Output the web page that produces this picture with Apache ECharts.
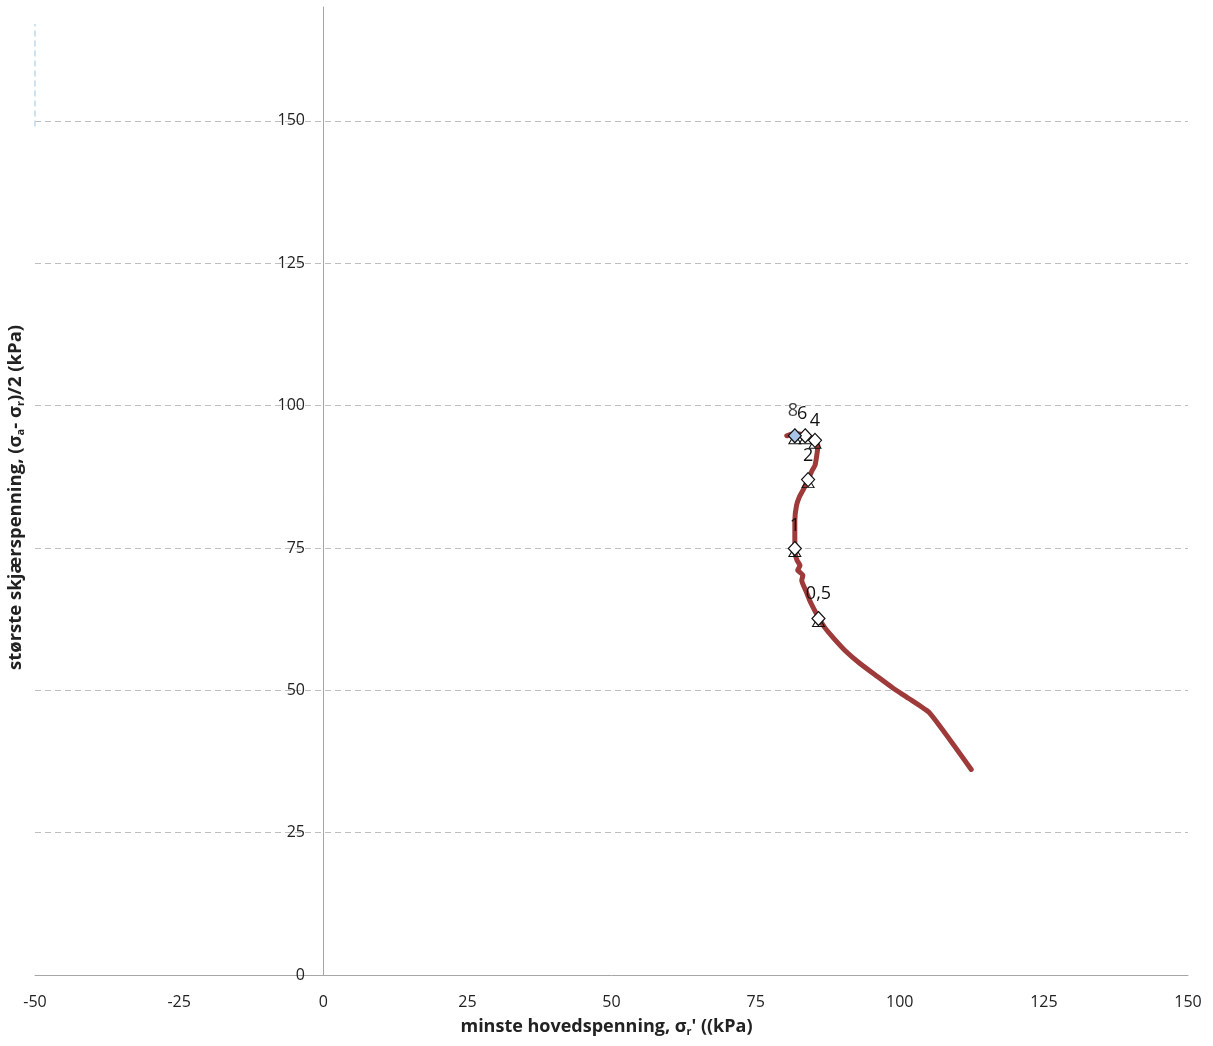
<!DOCTYPE html>
<html><head><meta charset="utf-8">
<script src="https://cdn.jsdelivr.net/npm/echarts@6/dist/echarts.min.js"></script>
<style>html,body{margin:0;padding:0;background:#fff}#c{width:1213px;height:1046px}</style>
</head><body><div id="c"></div>
<script>
// stress path (x = sigma_r', y = (sigma_a - sigma_r)/2)
const pathX = [112.4, 105.2, 101.5, 98.8, 96.0, 93.1, 90.5, 88.4, 87.0, 85.9, 84.5, 83.7, 83.0, 83.2, 82.3, 82.7, 82.2, 81.9, 81.8, 81.8, 82.1, 82.6, 83.2, 84.1, 84.8, 85.3, 85.6, 85.8, 85.6, 85.3, 83.6, 81.8, 80.4];
const pathY = [36.1, 46.0, 48.6, 50.4, 52.5, 54.7, 57.0, 59.3, 61.0, 62.8, 65.5, 67.5, 69.3, 70.2, 71.1, 71.9, 72.8, 73.8, 74.9, 79.8, 82.5, 84.0, 85.1, 87.0, 88.6, 89.5, 91.2, 93.0, 93.6, 93.9, 94.7, 95.1, 94.7];
// marked points (strain %)
const markLabels = ['0,5', '1', '2', '4', '6', '8'];
const markX = [85.9, 81.8, 84.1, 85.3, 83.6, 81.8];
const markY = [62.6, 74.9, 87.0, 93.9, 94.7, 94.7];
// helper line at left edge
const edgeX = [-50, -50];
const edgeY = [149, 167];
const xTicks = [-50, 150, 25];
const yTicks = [0, 170, 25];

const chart = echarts.init(document.getElementById('c'));
const path = pathX.map((x, i) => [x, pathY[i]]);
const labelOffsets = [[0,-25],[0,-23],[0,-24],[0,-19],[-3,-22],[-2,-25]];
const marks = markX.map((x, i) => ({
  value: [x, markY[i]],
  label: { formatter: markLabels[i], color: i === 5 ? '#444' : '#111', offset: labelOffsets[i] },
  itemStyle: { color: i === 5 ? '#a9c4e8' : '#fff' }
}));
const font = 'Open Sans, Liberation Sans, sans-serif';
const splitColors = [];
for (let v = yTicks[0]; v < yTicks[1]; v += yTicks[2]) splitColors.push('#bfbfbf');
splitColors.push('rgba(0,0,0,0)');
chart.setOption({
  animation: false,
  grid: { left: 35, right: 25, top: 7, bottom: 71, outerBoundsMode: 'none', containLabel: false },
  xAxis: {
    type: 'value', min: xTicks[0], max: xTicks[1], interval: xTicks[2],
    axisLine: { onZero: true, lineStyle: { color: '#a6a6a6', width: 1 } },
    axisTick: { show: false },
    splitLine: { show: false },
    axisLabel: { color: '#222', fontSize: 16, fontFamily: font, margin: 19 }
  },
  yAxis: {
    type: 'value', min: yTicks[0], max: yTicks[1], interval: yTicks[2],
    axisLine: { show: true, onZero: true, lineStyle: { color: '#a6a6a6', width: 1 } },
    axisTick: { show: false },
    splitLine: { show: true, lineStyle: { color: splitColors, type: [6, 4], width: 1 } },
    axisLabel: { color: '#222', fontSize: 16, fontFamily: font, margin: -270, showMaxLabel: false }
  },
  series: [
    { type: 'line', data: edgeX.map((x, i) => [x, edgeY[i]]), symbol: 'none',
      lineStyle: { color: '#bdd7ee', width: 1.5, type: [6, 4] }, silent: true, z: 1 },
    { type: 'line', data: path, symbol: 'none', smooth: 0.15,
      lineStyle: { color: '#9e3a3a', width: 5, cap: 'round', join: 'round' }, z: 2 },
    { type: 'scatter', data: markX.map((x, i) => [x, markY[i]]), symbol: 'triangle', symbolSize: [12, 10],
      symbolOffset: [0, 3], itemStyle: { opacity: 1, color: 'rgba(255,255,255,0)', borderColor: '#111', borderWidth: 1 }, z: 8 },
    { type: 'scatter', data: marks, symbol: 'diamond', symbolSize: [13, 14], z: 10,
      itemStyle: { opacity: 1, borderColor: '#111', borderWidth: 1.2 },
      label: { show: true, position: 'inside', fontSize: 18, fontFamily: font, color: '#111', opacity: 1 } }
  ],
  graphic: [
    { type: 'text', left: 'center', top: 1018,
      style: { text: '{b|minste hovedspenning, σ}{s|r}{b|\' ((kPa)}', fill: '#222',
        rich: { b: { fontSize: 18, fontWeight: 'bold', fontFamily: font, fill: '#222' },
                s: { fontSize: 11, fontWeight: 'bold', fontFamily: font, fill: '#222', padding: [9, 0, 0, 0] } } } },
    { type: 'text', x: 6, y: 670, rotation: Math.PI / 2,
      style: { text: '{b|største skjærspenning, (σ}{s|a}{b|- σ}{s|r}{b|)/2 (kPa)}', fill: '#222',
        rich: { b: { fontSize: 18.5, fontWeight: 'bold', fontFamily: font, fill: '#222' },
                s: { fontSize: 11, fontWeight: 'bold', fontFamily: font, fill: '#222', padding: [9, 0, 0, 0] } } } }
  ]
});
</script></body></html>
